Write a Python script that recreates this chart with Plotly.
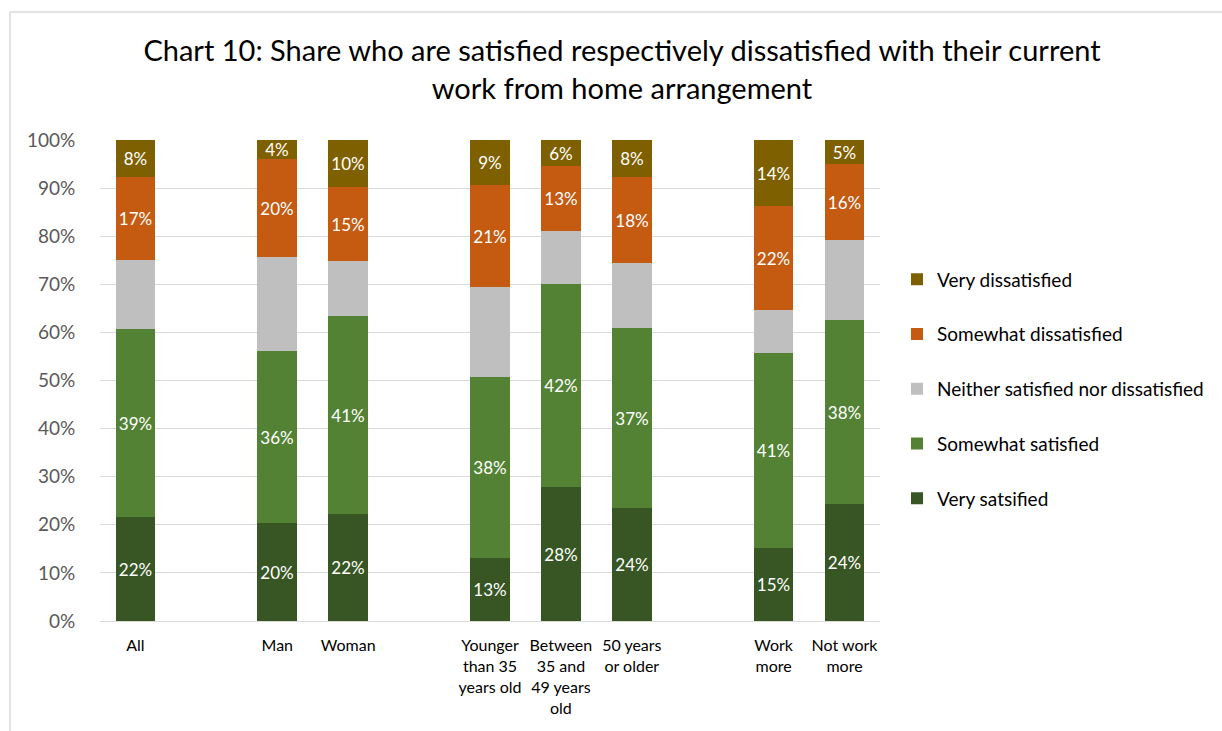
import plotly.graph_objects as go

# ---- data ----
groups = [
    ["All"],
    ["Man", "Woman"],
    ["Younger<br>than 35<br>years old", "Between<br>35 and<br>49 years<br>old", "50 years<br>or older"],
    ["Work<br>more", "Not work<br>more"],
]
series_names = ["Very satsified", "Somewhat satisfied", "Neither satisfied nor dissatisfied",
                "Somewhat dissatisfied", "Very dissatisfied"]
very_satisfied      = [21.6, 20.4, 22.2, 13.1, 27.9, 23.5, 15.2, 24.3]
somewhat_satisfied  = [39.1, 35.7, 41.2, 37.6, 42.2, 37.4, 40.6, 38.3]
neither             = [14.4, 19.5, 11.4, 18.7, 11.0, 13.5, 8.9, 16.6]
somewhat_dissat     = [17.2, 20.4, 15.4, 21.2, 13.4, 17.9, 21.6, 15.8]
very_dissat         = [7.7, 4.0, 9.8, 9.4, 5.5, 7.7, 13.7, 5.0]
show_labels = [True, True, False, True, True]
colors = ["#375623", "#548235", "#BFBFBF", "#C55A11", "#7F6000"]

# positions: one empty slot between groups
labels, xs = [], []
pos = 0
for g in groups:
    for c in g:
        labels.append(c)
        xs.append(pos)
        pos += 1
    pos += 1

values = [very_satisfied, somewhat_satisfied, neither, somewhat_dissat, very_dissat]
FONT = "Lato"

fig = go.Figure()
n = len(series_names)
for i, (name, vals, col, lab) in enumerate(zip(series_names, values, colors, show_labels)):
    fig.add_trace(go.Bar(
        x=xs, y=vals, name=name, marker_color=col, marker_line_width=0,
        width=0.56, legendgroup=f"g{i}", legendrank=n - i,
        text=[f"{int(v + 0.5)}%" for v in vals] if lab else None,
        textposition="inside" if lab else "none",
        insidetextanchor="middle", textangle=0,
        textfont=dict(color="white", size=17, family=FONT),
        hoverinfo="skip",
    ))

W, H = 1222, 731
L, R, T, B = 100, 342, 140, 110
pw, ph = W - L - R, H - T - B

def px(x):
    return (x - L) / pw

def py(y):
    return (H - B - y) / ph

fig.update_layout(
    barmode="stack",
    width=W, height=H,
    margin=dict(l=L, r=R, t=T, b=B, pad=0, autoexpand=False),
    paper_bgcolor="white", plot_bgcolor="white",
    font=dict(family=FONT, color="#000000"),
    title=dict(
        text="Chart 10: Share who are satisfied respectively dissatisfied with their current<br>work from home arrangement",
        x=622 / W, xanchor="center", y=1 - 61 / H, yanchor="middle",
        font=dict(size=29, color="#000000", family=FONT),
    ),
    uniformtext=dict(minsize=17, mode="show"),
    showlegend=True,
    legend=dict(
        x=px(897), xanchor="left", y=py(389), yanchor="middle",
        traceorder="grouped", tracegroupgap=27,
        font=dict(size=19, color="#000000", family=FONT),
        itemwidth=30,
    ),
    bargap=0,
)
fig.update_xaxes(
    range=[-0.5, pos - 1.5], automargin=False,
    tickmode="array", tickvals=xs, ticktext=labels,
    tickfont=dict(size=16, color="#000000", family=FONT),
    showgrid=False, zeroline=False,
    showline=True, linecolor="#D9D9D9", linewidth=1,
    ticks="outside", ticklen=10, tickcolor="rgba(0,0,0,0)",
)
fig.update_yaxes(
    range=[0, 100], tickmode="array", tickvals=list(range(0, 101, 10)), automargin=False,
    ticktext=[f"{v}%" for v in range(0, 101, 10)],
    tickfont=dict(size=19, color="#595959", family=FONT),
    showgrid=True, gridcolor="#D9D9D9", gridwidth=1,
    zeroline=False, showline=False,
    ticks="outside", ticklen=20, tickcolor="rgba(0,0,0,0)",
)
# outer chart frame (left and top edges)
fig.add_shape(type="line", xref="paper", yref="paper", x0=px(10), x1=px(1240), y0=py(12), y1=py(12),
              line=dict(color="#D9D9D9", width=1.5), layer="below")
fig.add_shape(type="line", xref="paper", yref="paper", x0=px(10), x1=px(10), y0=py(12), y1=py(745),
              line=dict(color="#D9D9D9", width=1.5), layer="below")

fig.write_html("out.html")
